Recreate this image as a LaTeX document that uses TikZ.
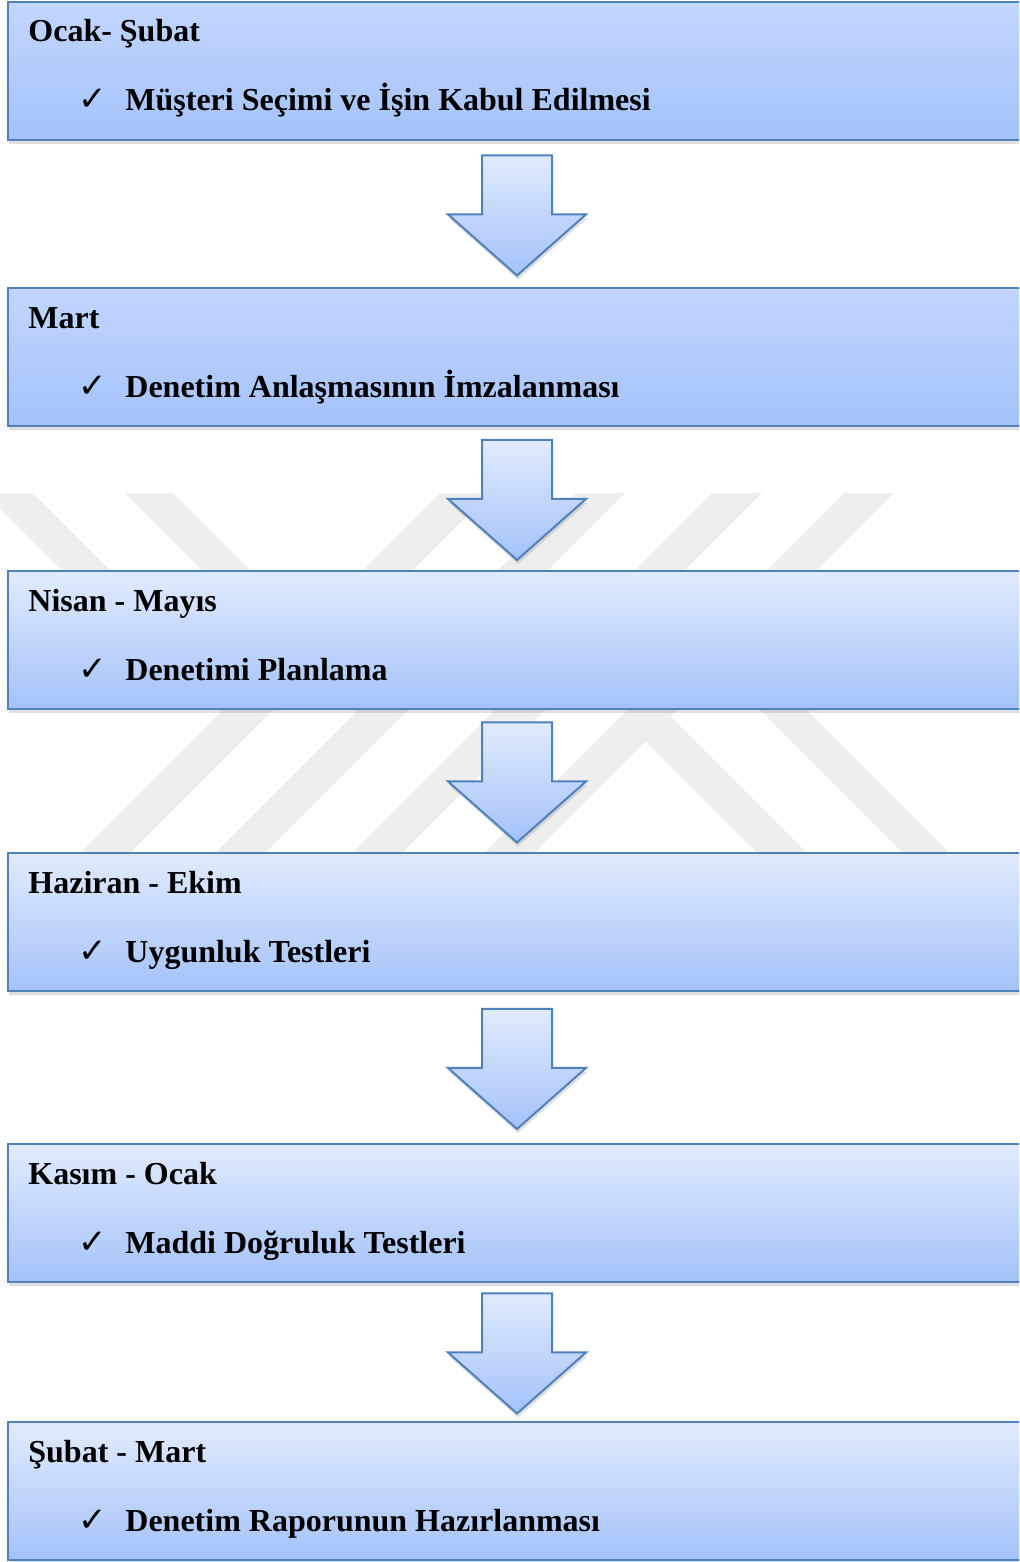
\documentclass[tikz,border=0pt]{standalone}
\usepackage{fontspec}
\setmainfont{Liberation Serif}
\newfontfamily\symfont{DejaVu Sans}
\usepackage{tikz}
\usetikzlibrary{shapes.arrows,positioning,calc,shadows}
\definecolor{plan-line}{HTML}{4F81BD}
\definecolor{plan-dark}{HTML}{C2D6FE}
\definecolor{plan-light}{HTML}{E1EBFD}
\definecolor{plan-bottom}{HTML}{A4C2F9}
\definecolor{plan-mark}{HTML}{EEEEEE}
\newcommand{\chk}{\makebox[23.5pt][l]{\symfont\fontsize{17}{17}\selectfont ✓}}
\tikzset{
  planstage/.style={
    rectangle, draw=plan-line, line width=1pt,
    top color=plan-light, bottom color=plan-bottom,
    minimum width=509pt, minimum height=69pt,
    inner sep=0pt, outer sep=0pt,
    drop shadow={opacity=0.25, shadow xshift=0.5pt, shadow yshift=-2pt}
  },
  planstagedark/.style={
    planstage, top color=plan-dark, bottom color=plan-bottom
  },
  planarrow/.style={
    single arrow, shape border rotate=270,
    draw=plan-line, line width=1pt,
    top color=plan-light, bottom color=plan-bottom,
    minimum height=60pt,
    single arrow head extend=17pt, single arrow tip angle=97,
    inner sep=17pt, outer sep=0pt, yshift=7pt,
    drop shadow={opacity=0.25, shadow xshift=0.5pt, shadow yshift=-2pt}
  },
  planmonth/.style={
    anchor=base west, inner sep=0pt,
    font=\fontsize{16}{19}\selectfont\bfseries
  },
  plantask/.style={
    anchor=base west, inner sep=0pt,
    font=\fontsize{16}{19}\selectfont\bfseries
  },
  planmark/.style={fill=plan-mark},
}

\begin{document}
\begin{tikzpicture}[x=0.5pt, y=-0.5pt]
  \path[use as bounding box] (0,0) rectangle (1019,1562);
  \clip (0,0) rectangle (1019,1562);

  \begin{scope}
    \clip (0,493) rectangle (1019,853);
    \fill[planmark] (-15,493) -- (33,493) -- (180,640) -- (132,640) -- cycle;
    \fill[planmark] (125,493) -- (173,493) -- (320,640) -- (272,640) -- cycle;
    \foreach \l in {80,215,352,484}
      \fill[planmark] (\l,853) -- ++(50,0) -- ++(360,-360) -- ++(-50,0) -- cycle;
    \fill[planmark] (644,690) -- (807,853) -- (757,853) -- (630,726) -- cycle;
    \fill[planmark] (650,600) -- (697,600) -- (950,853) -- (903,853) -- cycle;
  \end{scope}

  \node[planstagedark, anchor=north west] (ocak) at (8,2) {};
  \node[planstagedark, below=74pt of ocak]  (mart)    {};
  \node[planstage, below=72.5pt of mart]    (nisan)   {};
  \node[planstage, below=72pt of nisan]     (haziran) {};
  \node[planstage, below=76.5pt of haziran] (kasim)   {};
  \node[planstage, below=70pt of kasim]     (subat)   {};

  \node[planarrow] (ar1) at ($(ocak.south)!0.5!(mart.north)$)    {};
  \node[planarrow] (ar2) at ($(mart.south)!0.5!(nisan.north)$)   {};
  \node[planarrow] (ar3) at ($(nisan.south)!0.5!(haziran.north)$) {};
  \node[planarrow] (ar4) at ($(haziran.south)!0.5!(kasim.north)$) {};
  \node[planarrow] (ar5) at ($(kasim.south)!0.5!(subat.north)$)  {};

  \node[planmonth] (ocak-m)    at ([shift={(10pt,-20pt)}]ocak.north west)    {Ocak- Şubat};
  \node[plantask]  (ocak-t)    at ([shift={(35pt,-54.5pt)}]ocak.north west)    {\chk Müşteri Seçimi ve İşin Kabul Edilmesi};
  \node[planmonth] (mart-m)    at ([shift={(10pt,-20pt)}]mart.north west)    {Mart};
  \node[plantask]  (mart-t)    at ([shift={(35pt,-54.5pt)}]mart.north west)    {\chk Denetim Anlaşmasının İmzalanması};
  \node[planmonth] (nisan-m)   at ([shift={(10pt,-20pt)}]nisan.north west)   {Nisan - Mayıs};
  \node[plantask]  (nisan-t)   at ([shift={(35pt,-54.5pt)}]nisan.north west)   {\chk Denetimi Planlama};
  \node[planmonth] (haziran-m) at ([shift={(10pt,-20pt)}]haziran.north west) {Haziran - Ekim};
  \node[plantask]  (haziran-t) at ([shift={(35pt,-54.5pt)}]haziran.north west) {\chk Uygunluk Testleri};
  \node[planmonth] (kasim-m)   at ([shift={(10pt,-20pt)}]kasim.north west)   {Kasım - Ocak};
  \node[plantask]  (kasim-t)   at ([shift={(35pt,-54.5pt)}]kasim.north west)   {\chk Maddi Doğruluk Testleri};
  \node[planmonth] (subat-m)   at ([shift={(10pt,-20pt)}]subat.north west)   {Şubat - Mart};
  \node[plantask]  (subat-t)   at ([shift={(35pt,-54.5pt)}]subat.north west)   {\chk Denetim Raporunun Hazırlanması};

\end{tikzpicture}
\end{document}
